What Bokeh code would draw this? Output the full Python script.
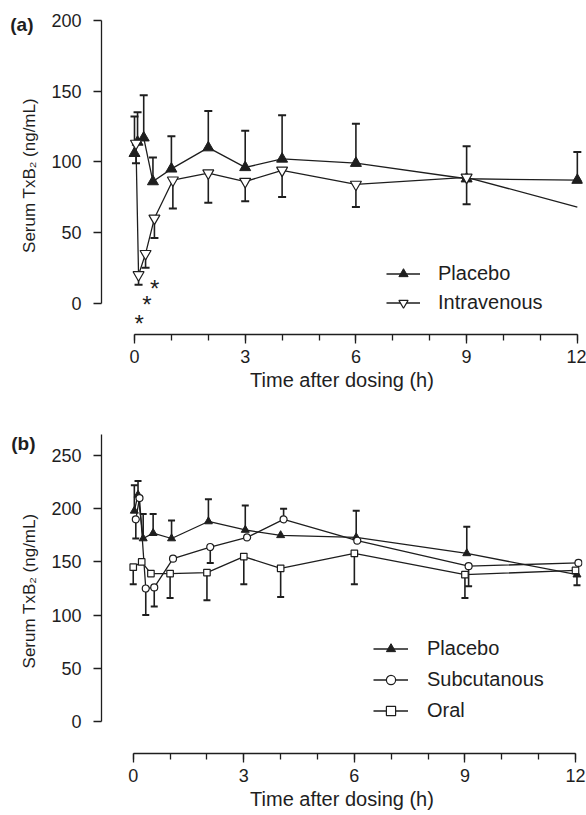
import math
from bokeh.plotting import figure
from bokeh.layouts import column
from bokeh.models import Range1d, Legend, LegendItem, FixedTicker, LinearAxis
from bokeh.embed import file_html
from bokeh.resources import INLINE
from bokeh.core.properties import value

NAN = float("nan")
FONT = "Liberation Sans"
INK = "#1e1e1e"

# ---------------- data ----------------
x_major = [0, 3, 6, 9, 12]
x_minor = list(range(13))
a_y_ticks = [0, 50, 100, 150, 200]
b_y_ticks = [0, 50, 100, 150, 200, 250]

# Panel (a): placebo vs intravenous (error bar end values)
a_pla_t = [0, 0.083, 0.25, 0.5, 1, 2, 3, 4, 6, 9, 12]
a_pla_v = [106, 114, 117, 86, 95, 110, 96, 102, 99, 88, 87]
a_pla_e = [132, 135, 147, 103, 118, 136, 122, 133, 127, 111, 107]
a_iv_t = [0.04, 0.11, 0.3, 0.54, 1.04, 2, 3, 4, 6, 9, 12]
a_iv_v = [113, 20, 35, 60, 87, 92, 86, 94, 84, 89, 68]
a_iv_e = [99, 13, 25, 46, 67, 71, 72, 75, 68, 70, NAN]
a_iv_marked = 10  # last point (12 h) drawn without a marker
a_sig_t = [0.13, 0.34, 0.55]
a_sig_y = [-12, 1, 12.5]

# Panel (b): placebo, subcutaneous, oral
b_pla_t = [0.03, 0.13, 0.27, 0.54, 1.04, 2.04, 3.04, 4.0, 6.05, 9.05, 12.04]
b_pla_v = [198, 213, 172, 177, 172, 188, 180, 175, 173, 158, 138]
b_pla_e = [222, 226, 195, 195, 189, 209, 203, NAN, 198, 183, 128]
b_sc_t = [0.07, 0.17, 0.34, 0.57, 1.08, 2.09, 3.09, 4.08, 6.08, 9.1, 12.08]
b_sc_v = [190, 210, 125, 126, 153, 164, 173, 190, 170, 146, 149]
b_sc_e = [172, NAN, 100, 108, NAN, 149, NAN, 200, NAN, 127, NAN]
b_or_t = [0, 0.23, 0.48, 1.0, 2.0, 3.0, 4.0, 6.0, 9.0, 12.0]
b_or_v = [145, 150, 139, 139, 140, 155, 144, 158, 138, 142]
b_or_e = [129, NAN, NAN, 116, 114, 129, 117, 129, 116, NAN]


def make_fig(height, xr, yr, ybounds, yticks, mb_left, mb_top, mb_bottom):
    p = figure(width=586, height=height, x_range=Range1d(*xr), y_range=Range1d(*yr),
               output_backend="svg", toolbar_location=None,
               min_border_left=mb_left, min_border_right=4,
               min_border_top=mb_top, min_border_bottom=mb_bottom)
    p.outline_line_color = None
    p.grid.visible = False
    p.background_fill_color = "white"
    p.border_fill_color = "white"

    xa = p.xaxis[0]
    xa.bounds = (0, 12)
    xa.ticker = FixedTicker(ticks=x_major, minor_ticks=x_minor)
    xa.axis_line_color = INK
    xa.axis_line_width = 1.3
    xa.major_tick_line_color = INK
    xa.major_tick_line_width = 1.3
    xa.minor_tick_line_color = INK
    xa.minor_tick_line_width = 1.3
    xa.major_tick_in = 0
    xa.major_tick_out = 9
    xa.minor_tick_in = 0
    xa.minor_tick_out = 6
    xa.major_label_text_font = FONT
    xa.major_label_text_font_size = "18px"
    xa.major_label_text_color = INK
    xa.major_label_standoff = 6
    xa.axis_label = "Time after dosing (h)"
    xa.axis_label_text_font = FONT
    xa.axis_label_text_font_size = "20px"
    xa.axis_label_text_font_style = "normal"
    xa.axis_label_text_color = INK
    xa.axis_label_standoff = 3

    ya = p.yaxis[0]
    ya.bounds = ybounds
    ya.ticker = FixedTicker(ticks=yticks)
    ya.axis_line_color = INK
    ya.axis_line_width = 1.3
    ya.major_tick_line_color = INK
    ya.major_tick_line_width = 1.3
    ya.minor_tick_line_color = None
    ya.major_tick_in = 0
    ya.major_tick_out = 8
    ya.major_label_text_font = FONT
    ya.major_label_text_font_size = "18px"
    ya.major_label_text_color = INK
    ya.major_label_standoff = 12
    ya.axis_label = "Serum TxB\u2082 (ng/mL)"
    ya.axis_label_text_font = FONT
    ya.axis_label_text_font_size = "17px"
    ya.axis_label_text_font_style = "normal"
    ya.axis_label_text_color = INK
    ya.axis_label_standoff = 9
    return p


def add_panel_tag(p, text, yval, standoff):
    # a label-only axis on the far left carries the panel tag "(a)" / "(b)"
    ax = LinearAxis(ticker=FixedTicker(ticks=[yval]), major_label_overrides={yval: text},
                    axis_line_color=None, major_tick_line_color=None,
                    minor_tick_line_color=None, major_tick_in=0, major_tick_out=0,
                    minor_tick_in=0, minor_tick_out=0,
                    major_label_standoff=standoff, major_label_text_font=FONT,
                    major_label_text_font_size="19px", major_label_text_font_style="bold",
                    major_label_text_color=INK)
    p.add_layout(ax, "left")


def errbars(p, t, v, e, cap):
    tt = [ti for ti, ei in zip(t, e) if not math.isnan(ei)]
    vv = [vi for vi, ei in zip(v, e) if not math.isnan(ei)]
    ee = [ei for ei in e if not math.isnan(ei)]
    p.segment(x0=tt, y0=vv, x1=tt, y1=ee, line_color=INK, line_width=1.6)
    p.scatter(x=tt, y=ee, marker="dash", size=cap, line_color=INK, line_width=2)


def add_legend(p, items, loc, spacing, glyph_w, standoff):
    leg = Legend(items=items, location=loc, orientation="vertical", padding=0, margin=0,
                 border_line_color=None, background_fill_alpha=0,
                 glyph_width=glyph_w, glyph_height=23, label_height=23,
                 label_standoff=standoff, spacing=spacing,
                 label_text_font=FONT, label_text_font_size="20px",
                 label_text_color=INK)
    p.add_layout(leg)


# ---------------- panel (a) ----------------
pa = make_fig(400, (-0.894, 12.14), (-22.2, 202.8), (0, 200), a_y_ticks, 101, 16, 66)

la_pla = pa.line(a_pla_t, a_pla_v, line_color=INK, line_width=1.3)
la_iv = pa.line(a_iv_t, a_iv_v, line_color=INK, line_width=1.3)
errbars(pa, a_pla_t, a_pla_v, a_pla_e, 8)
errbars(pa, a_iv_t, a_iv_v, a_iv_e, 8)
sa_pla = pa.scatter(a_pla_t, a_pla_v, marker="triangle", size=11,
                    fill_color=INK, line_color=INK, line_width=1)
sa_iv = pa.scatter(a_iv_t[:a_iv_marked], a_iv_v[:a_iv_marked], marker="inverted_triangle",
                   size=11, fill_color="white", line_color=INK, line_width=1.2)
pa.text(x=a_sig_t, y=a_sig_y, text=["*"] * len(a_sig_t), text_font=value(FONT),
        text_font_size="24px", text_align="center", text_baseline="middle",
        y_offset=3, text_color=INK)
add_legend(pa, [LegendItem(label="Placebo", renderers=[la_pla, sa_pla]),
                LegendItem(label="Intravenous", renderers=[la_iv, sa_iv])],
           (285, 20), 6, 34, 18)
add_panel_tag(pa, "(a)", 197, -16)

# ---------------- panel (b) ----------------
pb = make_fig(415, (-0.861, 12.19), (-30.1, 275.4), (0, 270), b_y_ticks, 97, 28, 62)

lb_pla = pb.line(b_pla_t, b_pla_v, line_color=INK, line_width=1.3)
lb_sc = pb.line(b_sc_t, b_sc_v, line_color=INK, line_width=1.3)
lb_or = pb.line(b_or_t, b_or_v, line_color=INK, line_width=1.3)
errbars(pb, b_pla_t, b_pla_v, b_pla_e, 7)
errbars(pb, b_sc_t, b_sc_v, b_sc_e, 7)
errbars(pb, b_or_t, b_or_v, b_or_e, 7)
sb_pla = pb.scatter(b_pla_t, b_pla_v, marker="triangle", size=8,
                    fill_color=INK, line_color=INK, line_width=1)
sb_sc = pb.scatter(b_sc_t, b_sc_v, marker="circle", size=7,
                   fill_color="white", line_color=INK, line_width=1.2)
sb_or = pb.scatter(b_or_t, b_or_v, marker="square", size=6.5,
                   fill_color="white", line_color=INK, line_width=1.2)
add_legend(pb, [LegendItem(label="Placebo", renderers=[lb_pla, sb_pla]),
                LegendItem(label="Subcutanous", renderers=[lb_sc, sb_sc]),
                LegendItem(label="Oral", renderers=[lb_or, sb_or])],
           (272, 31), 8, 35, 19)
add_panel_tag(pb, "(b)", 261, -18)

layout = column(pa, pb, spacing=0)
open("out.html", "w").write(file_html(layout, INLINE))
